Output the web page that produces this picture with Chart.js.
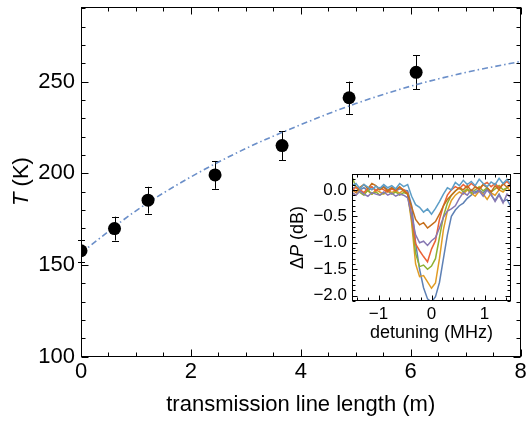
<!DOCTYPE html>
<html>
<head>
<meta charset="utf-8">
<script src="https://cdn.jsdelivr.net/npm/chart.js@4.4.0/dist/chart.umd.min.js"></script>
<style>
html,body{margin:0;padding:0;background:#fff;overflow:hidden}
#wrap{position:relative;width:527px;height:428px}
#main{position:absolute;left:0;top:0}
#inset{position:absolute;left:287px;top:165px}
</style>
</head>
<body>
<div id="wrap">
  <canvas id="main" width="527" height="428"></canvas>
  <canvas id="inset" width="240" height="180"></canvas>
</div>
<script>
// main panel: noise temperature vs line length
const lengths=[0,0.61,1.22,2.44,3.66,4.88,6.10];
const temps=[157.7,169.8,185.3,199.1,215.1,241.2,255.1];
const tempErr=[6,6.5,7.3,7.6,7.9,8.8,9.2];
const fitX=[0,1,2,3,4,5,6,7,8];
const fitT=[156.5,179.5,198,213.5,226.5,238,247.5,255,261];
const mainXTicks=[0,2,4,6,8];
const mainYTicks=[100,150,200,250];

// inset: power dip vs detuning, one trace per length
const detuning=[-1.5,-1.425,-1.35,-1.275,-1.2,-1.125,-1.05,-0.975,-0.9,-0.825,-0.75,-0.675,-0.6,-0.525,-0.45,-0.375,-0.3,-0.225,-0.15,-0.075,0,0.075,0.15,0.225,0.3,0.375,0.45,0.525,0.6,0.675,0.75,0.825,0.9,0.975,1.05,1.125,1.2,1.275,1.35,1.425,1.5];
const dipBlue=[0.02,0.06,0.0,0.04,-0.02,0.05,0.0,0.03,0.06,0.0,0.04,-0.02,0.02,0.0,-0.02,-0.3,-1.0,-1.5,-1.85,-2.06,-2.12,-2.02,-1.75,-1.3,-0.85,-0.5,-0.38,-0.3,-0.25,-0.16,-0.1,-0.04,0.0,-0.06,0.02,-0.1,-0.2,-0.08,-0.22,-0.18,-0.32];
const dipOrange=[-0.05,-0.1,0.0,-0.06,-0.02,-0.08,0.0,-0.04,-0.08,0.0,-0.05,-0.02,-0.06,0.0,-0.08,-0.62,-1.4,-1.64,-1.62,-1.74,-1.86,-1.76,-1.3,-0.75,-0.4,-0.2,-0.1,-0.04,-0.08,0.0,-0.06,-0.12,-0.02,-0.08,-0.18,-0.06,-0.1,0.0,-0.04,0.04,-0.02];
const dipGreen=[0.25,0.05,-0.05,-0.1,0.0,-0.08,-0.04,-0.1,-0.06,-0.02,-0.08,-0.04,-0.1,-0.05,-0.08,-0.55,-1.2,-1.45,-1.42,-1.5,-1.44,-1.3,-0.9,-0.5,-0.25,-0.1,-0.02,0.04,-0.04,0.02,-0.06,0.0,0.06,-0.02,0.04,-0.04,0.02,0.08,0.0,0.04,0.1];
const dipRed=[-0.02,0.05,0.0,-0.05,0.03,0.06,-0.02,0.04,0.0,-0.04,0.02,-0.02,0.05,0.0,-0.06,-0.5,-1.02,-1.15,-1.26,-1.36,-1.12,-0.96,-0.56,-0.3,-0.1,0.0,0.06,0.02,0.1,0.04,0.12,0.06,0.0,0.1,0.14,0.06,0.12,0.04,0.1,0.16,0.08];
const dipPurple=[-0.05,-0.1,-0.02,-0.08,-0.12,-0.05,-0.08,-0.1,-0.04,-0.1,-0.06,-0.12,-0.08,-0.1,-0.15,-0.48,-0.85,-1.0,-0.97,-1.05,-0.96,-0.9,-0.72,-0.52,-0.4,-0.36,-0.3,-0.16,-0.05,-0.1,0.0,-0.06,-0.02,-0.12,0.0,-0.08,-0.22,-0.1,-0.25,-0.08,-0.15];
const dipBrown=[0.0,-0.05,0.05,0.1,0.02,0.12,0.08,0.0,0.05,-0.02,0.04,0.0,0.06,-0.02,-0.08,-0.32,-0.56,-0.66,-0.62,-0.72,-0.66,-0.6,-0.46,-0.3,-0.18,-0.1,-0.02,0.04,0.0,0.08,-0.02,0.06,0.02,0.1,0.04,-0.04,0.08,0.0,0.12,0.05,0.08];
const dipSky=[0.08,0.12,0.02,0.1,0.05,0.0,0.07,0.03,0.1,0.04,0.08,0.02,0.12,0.06,0.1,-0.12,-0.28,-0.33,-0.42,-0.36,-0.46,-0.35,-0.22,-0.08,0.04,0.0,0.14,0.08,0.18,0.1,0.16,0.08,0.2,0.12,0.06,0.15,0.1,0.22,0.12,0.2,0.1];
const traces=[dipBlue,dipOrange,dipGreen,dipRed,dipPurple,dipBrown,dipSky];
const traceColors=['#5E81B5','#E19C24','#8FB032','#EB6235','#8778B3','#C56E1A','#5D9EC7'];
const insetXTicks=[-1,0,1];
const insetYTicks=[-2,-1.5,-1,-0.5,0];

const FONT='"Liberation Sans", Arial, sans-serif';

function tickValues(min,max,step){
  const out=[];
  for(let k=Math.ceil(min/step-1e-9);k*step<=max+1e-9;k++) out.push(+(k*step).toFixed(6));
  return out;
}
function isMult(v,step){const r=v/step;return Math.abs(r-Math.round(r))<1e-6;}
const fixTicks=list=>s=>{s.ticks=list.map(v=>({value:v}));};

function drawTitle(ctx,cx,cy,parts,size){
  ctx.save();
  ctx.translate(cx,cy); ctx.rotate(-Math.PI/2);
  ctx.textBaseline='middle'; ctx.textAlign='left'; ctx.fillStyle='#000';
  const fonts=parts.map(p=>(p.italic?'italic ':'')+size+'px '+FONT);
  const widths=parts.map((p,i)=>{ctx.font=fonts[i];return ctx.measureText(p.text).width;});
  let x=-widths.reduce((a,b)=>a+b,0)/2;
  parts.forEach((p,i)=>{ctx.font=fonts[i];ctx.fillText(p.text,x,0);x+=widths[i];});
  ctx.restore();
}

// frame with inward ticks on all four sides + rotated y title
function framePlugin(id,o){
  return {id, afterDraw(chart){
    const {ctx,chartArea:a,scales:{x,y}}=chart;
    ctx.save();
    ctx.strokeStyle='#000'; ctx.lineWidth=1;
    const L=Math.round(a.left)+0.5,R=Math.round(a.right)-0.5,T=Math.round(a.top)+0.5,B=Math.round(a.bottom)-0.5;
    ctx.strokeRect(L,T,R-L,B-T);
    ctx.beginPath();
    tickValues(x.min,x.max,o.xMinor).forEach(v=>{
      const px=Math.round(x.getPixelForValue(v))+0.5;
      const l=isMult(v,o.xMajor)?o.big:o.small;
      ctx.moveTo(px,B);ctx.lineTo(px,B-l);ctx.moveTo(px,T);ctx.lineTo(px,T+l);
    });
    tickValues(y.min,y.max,o.yMinor).forEach(v=>{
      const py=Math.round(y.getPixelForValue(v))+0.5;
      const l=isMult(v,o.yMajor)?o.big:o.small;
      ctx.moveTo(L,py);ctx.lineTo(L+l,py);ctx.moveTo(R,py);ctx.lineTo(R-l,py);
    });
    ctx.stroke();
    ctx.restore();
    drawTitle(ctx,o.titleX,(a.top+a.bottom)/2,o.title,o.titleSize);
  }};
}

const errorBars={id:'errorBars', beforeDatasetsDraw(chart){
  const {ctx,scales:{x,y}}=chart;
  ctx.save(); ctx.strokeStyle='#000'; ctx.lineWidth=1;
  ctx.beginPath();
  lengths.forEach((l,i)=>{
    const px=Math.round(x.getPixelForValue(l))+0.5;
    const y1=y.getPixelForValue(temps[i]+tempErr[i]), y2=y.getPixelForValue(temps[i]-tempErr[i]);
    ctx.moveTo(px,y1);ctx.lineTo(px,y2);
    ctx.moveTo(px-3.5,Math.round(y1)+0.5);ctx.lineTo(px+3.5,Math.round(y1)+0.5);
    ctx.moveTo(px-3.5,Math.round(y2)+0.5);ctx.lineTo(px+3.5,Math.round(y2)+0.5);
  });
  ctx.stroke(); ctx.restore();
}};

new Chart(document.getElementById('main'),{
  type:'scatter',
  data:{datasets:[
    {data:lengths.map((l,i)=>({x:l,y:temps[i]})),pointRadius:6.5,pointHoverRadius:6.5,backgroundColor:'#000',borderWidth:0,order:0},
    {data:fitX.map((l,i)=>({x:l,y:fitT[i]})),showLine:true,pointRadius:0,borderColor:'#6b8fc9',borderWidth:1.6,borderDash:[6,3,1.5,3],cubicInterpolationMode:'monotone',order:1}
  ]},
  options:{
    responsive:false,animation:false,
    layout:{padding:{top:4,right:3.5,left:0,bottom:0}},
    plugins:{legend:{display:false},tooltip:{enabled:false}},
    scales:{
      x:{type:'linear',min:0,max:8,afterBuildTicks:fixTicks(mainXTicks),
        grid:{display:false,drawTicks:false},border:{display:false},
        ticks:{padding:2,color:'#000',font:{family:FONT,size:22},maxRotation:0},
        title:{display:true,text:'transmission line length (m)',color:'#000',font:{family:FONT,size:22},padding:{top:0,bottom:9.8}},
        afterFit:s=>{s.height=71.5;s.paddingLeft=0;s.paddingRight=0;}},
      y:{type:'linear',min:100,max:291,afterBuildTicks:fixTicks(mainYTicks),
        grid:{display:false,drawTicks:false},border:{display:false},
        ticks:{padding:6,color:'#000',font:{family:FONT,size:22}},
        afterFit:s=>{s.width=81;s.paddingTop=0;s.paddingBottom=0;}}
    }
  },
  plugins:[errorBars,framePlugin('mainFrame',{xMinor:0.5,xMajor:2,yMinor:10,yMajor:50,big:7,small:4,
    titleX:21.7,title:[{text:'T',italic:true},{text:' (K)'}],titleSize:22})]
});

new Chart(document.getElementById('inset'),{
  type:'scatter',
  data:{datasets:traces.map((t,i)=>({
    data:detuning.map((d,j)=>({x:d,y:t[j]})),showLine:true,pointRadius:0,
    borderColor:traceColors[i],borderWidth:1.5,tension:0,order:traces.length-i
  }))},
  options:{
    responsive:false,animation:false,
    layout:{padding:{top:9,right:16,left:0,bottom:0}},
    plugins:{legend:{display:false},tooltip:{enabled:false}},
    scales:{
      x:{type:'linear',min:-1.5,max:1.5,afterBuildTicks:fixTicks(insetXTicks),
        grid:{display:false,drawTicks:false},border:{display:false},
        ticks:{padding:3,color:'#000',font:{family:FONT,size:17},callback:v=>(v<0?'\u2212':'')+Math.abs(v)},
        title:{display:true,text:'detuning (MHz)',color:'#000',font:{family:FONT,size:18},padding:{top:0,bottom:1.2}},
        afterFit:s=>{s.height=44;s.paddingLeft=0;s.paddingRight=0;}},
      y:{type:'linear',min:-2.1,max:0.3,afterBuildTicks:fixTicks(insetYTicks),
        grid:{display:false,drawTicks:false},border:{display:false},
        ticks:{padding:5,color:'#000',font:{family:FONT,size:17},
          callback:v=>(v<0?'\u2212':'')+Math.abs(v).toFixed(1)},
        afterFit:s=>{s.width=65;s.paddingTop=0;s.paddingBottom=0;}}
    }
  },
  plugins:[framePlugin('insetFrame',{xMinor:0.2,xMajor:1,yMinor:0.1,yMajor:0.5,big:5,small:3,
    titleX:11,title:[{text:'\u0394'},{text:'P',italic:true},{text:' (dB)'}],titleSize:18})]
});
</script>
</body>
</html>
